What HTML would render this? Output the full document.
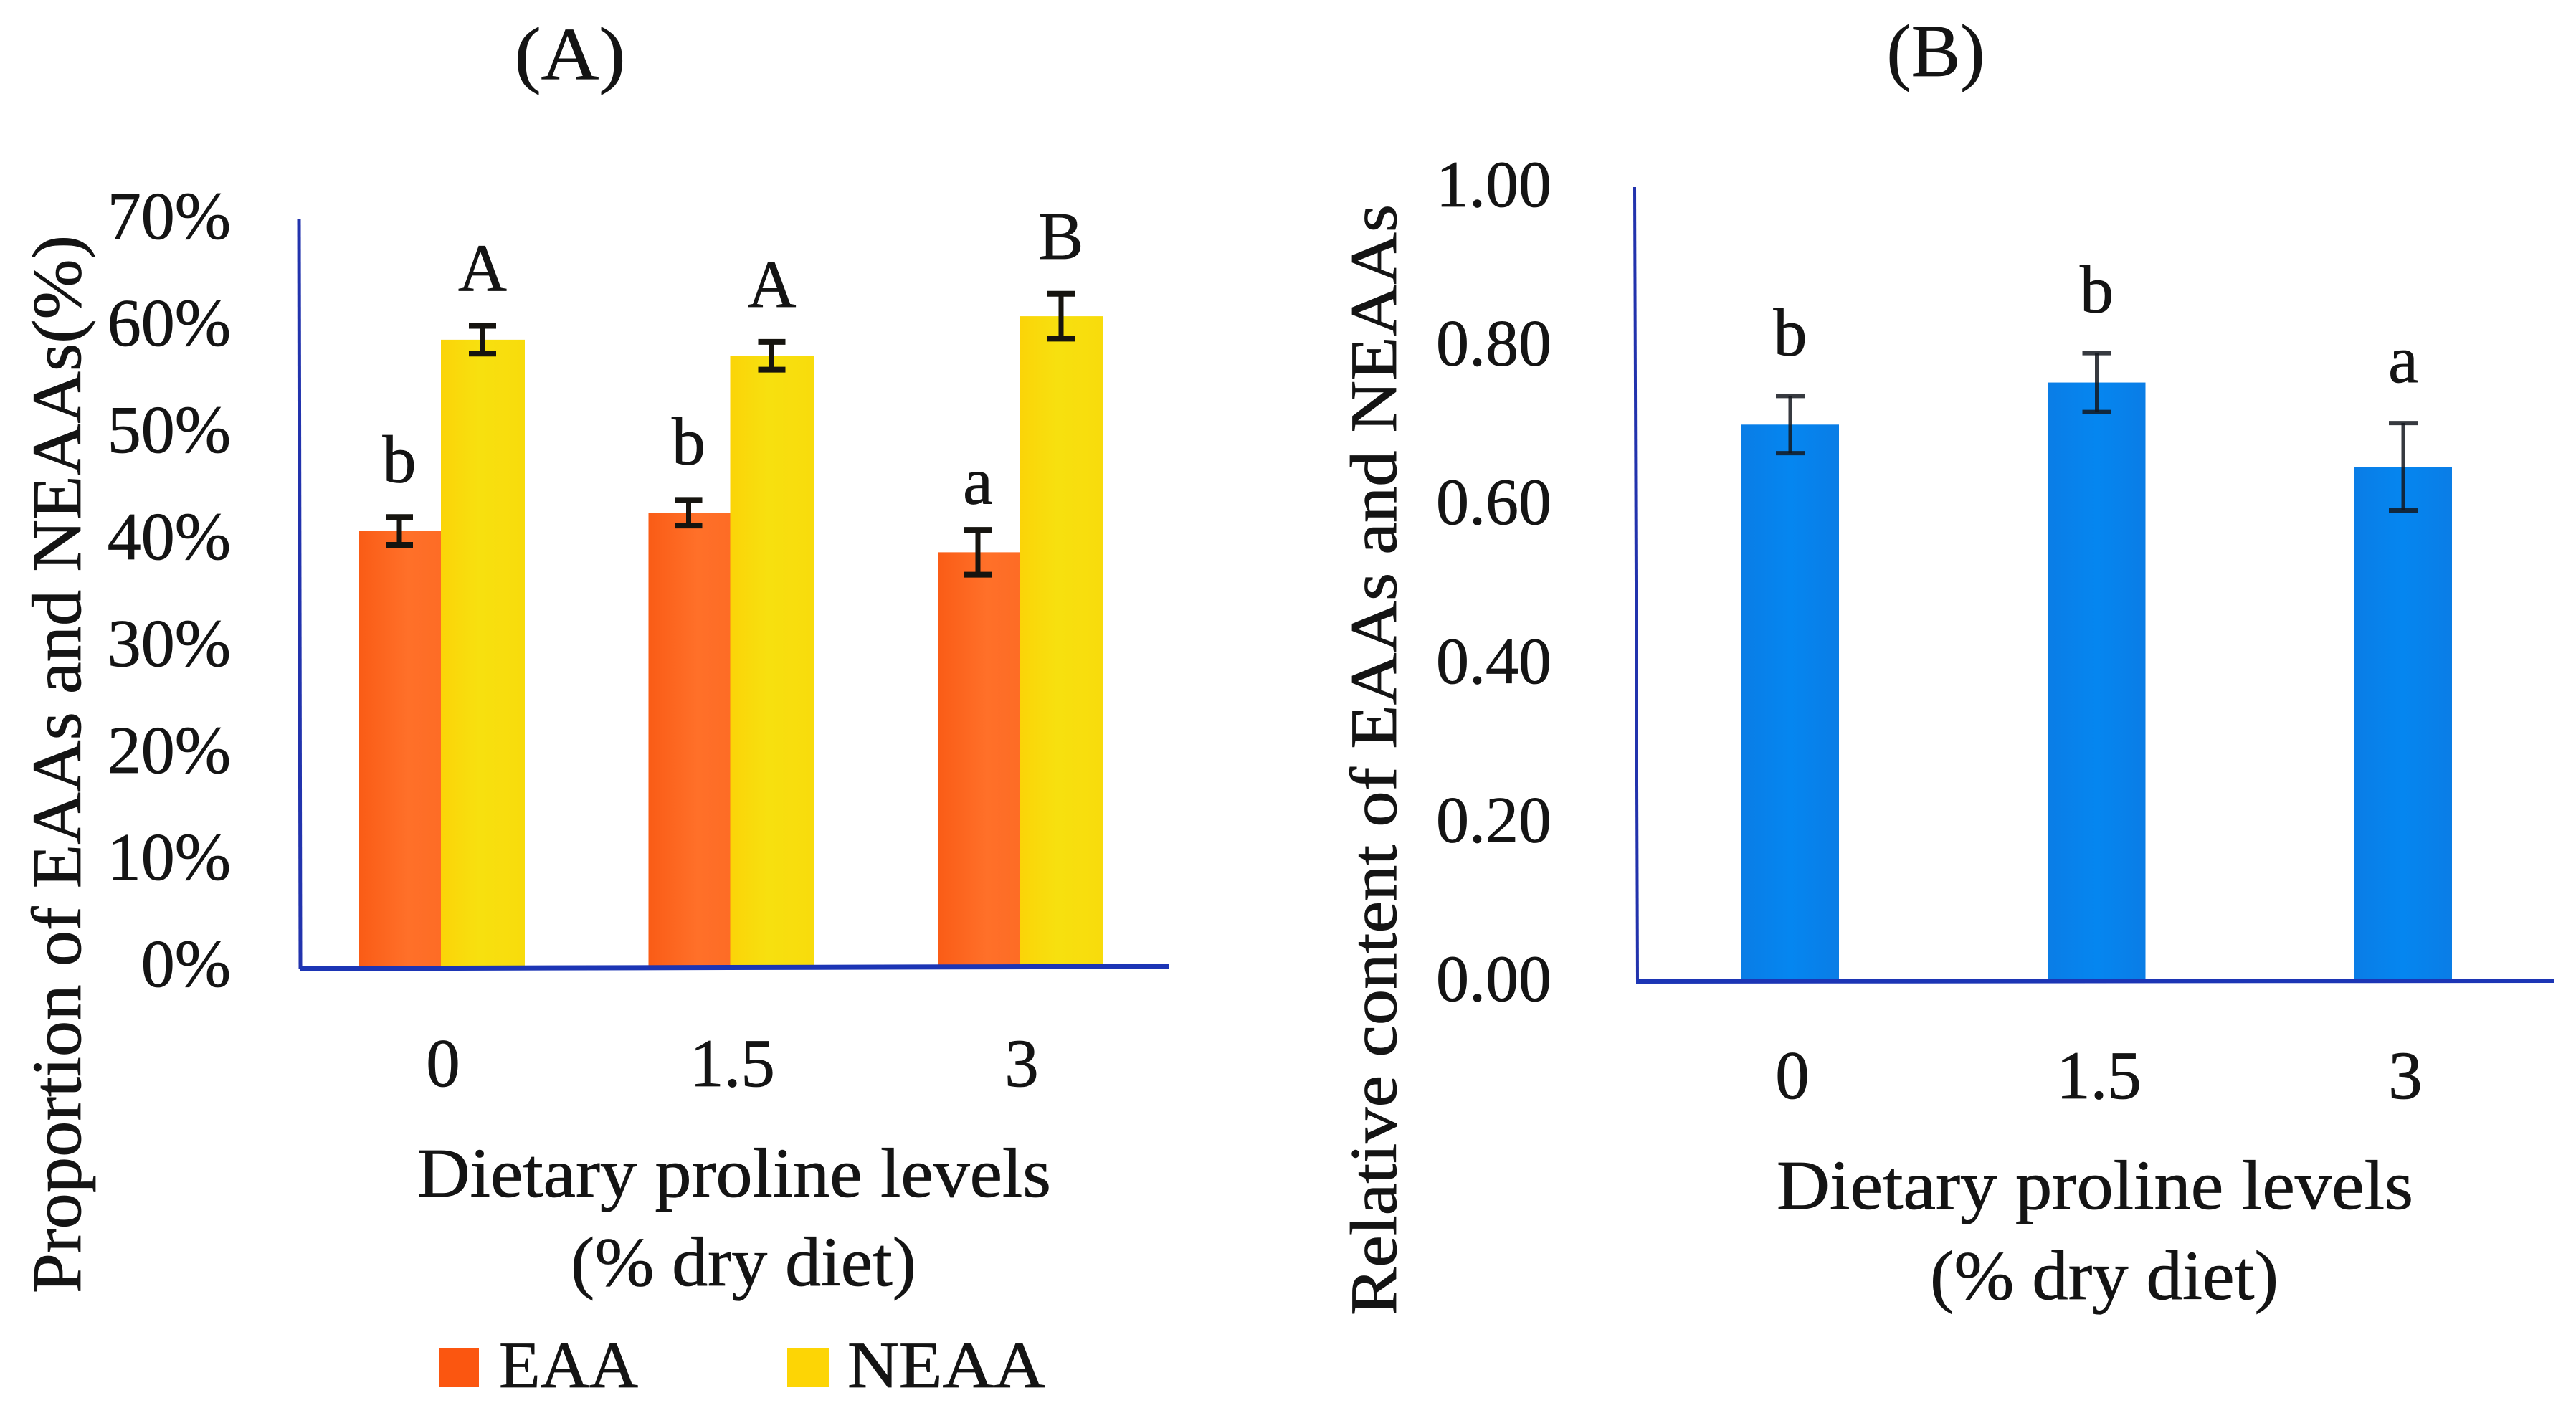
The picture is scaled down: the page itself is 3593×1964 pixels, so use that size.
<!DOCTYPE html>
<html lang="en">
<head>
<meta charset="utf-8">
<title>Proportion and relative content of EAAs and NEAAs</title>
<style>
html,body{margin:0;padding:0;background:#fff;}
svg{display:block;}
text{font-family:"Liberation Serif",serif;fill:#141414;stroke:#141414;stroke-width:0.8px;}
</style>
</head>
<body>
<svg id="figure" xmlns="http://www.w3.org/2000/svg" width="3593" height="1964" viewBox="0 0 3593 1964">
  <defs>
    <linearGradient id="orangeFill" x1="0" x2="1" y1="0" y2="0">
      <stop offset="0" stop-color="#fa5c16"/><stop offset="0.6" stop-color="#ff7029"/><stop offset="1" stop-color="#fe6c25"/>
    </linearGradient>
    <linearGradient id="yellowFill" x1="0" x2="1" y1="0" y2="0">
      <stop offset="0" stop-color="#fbd408"/><stop offset="0.45" stop-color="#f7e00f"/><stop offset="1" stop-color="#f8dc0c"/>
    </linearGradient>
    <linearGradient id="blueFill" x1="0" x2="1" y1="0" y2="0">
      <stop offset="0" stop-color="#0a7de6"/><stop offset="0.5" stop-color="#0586f0"/><stop offset="1" stop-color="#0a7de6"/>
    </linearGradient>
  </defs>

  <g id="panelA">
    <text x="795" y="110" font-size="104" text-anchor="middle" textLength="155" lengthAdjust="spacingAndGlyphs">(A)</text>
    <text transform="translate(112,1804) rotate(-90)" font-size="97" textLength="1476" lengthAdjust="spacingAndGlyphs">Proportion of EAAs and NEAAs(%)</text>
    <text x="1024" y="1669" font-size="97" text-anchor="middle" textLength="884" lengthAdjust="spacingAndGlyphs">Dietary proline levels</text>
    <text x="1037" y="1793" font-size="97" text-anchor="middle" textLength="482" lengthAdjust="spacingAndGlyphs">(% dry diet)</text>
    <g>
      <g>
        <rect x="613" y="1881" width="55" height="54" fill="#fb5610"/>
        <text x="696" y="1935" font-size="92" textLength="194" lengthAdjust="spacingAndGlyphs">EAA</text>
      </g>
      <g>
        <rect x="1098" y="1881" width="58" height="54" fill="#fdd505"/>
        <text x="1182" y="1935" font-size="92" textLength="276" lengthAdjust="spacingAndGlyphs">NEAA</text>
      </g>
    </g>
  </g>

  <g id="panelB">
    <text x="2700" y="106" font-size="104" text-anchor="middle" textLength="137" lengthAdjust="spacingAndGlyphs">(B)</text>
    <text transform="translate(1947,1835) rotate(-90)" font-size="92" textLength="1550" lengthAdjust="spacingAndGlyphs">Relative content of EAAs and NEAAs</text>
    <text x="2922" y="1686" font-size="97" text-anchor="middle" textLength="888" lengthAdjust="spacingAndGlyphs">Dietary proline levels</text>
    <text x="2935" y="1812" font-size="97" text-anchor="middle" textLength="486" lengthAdjust="spacingAndGlyphs">(% dry diet)</text>
  </g>
</svg>

<script>
const categories = ['0', '1.5', '3'];
const eaaValues = [40.9, 42.6, 38.9];
const neaaValues = [58.8, 57.3, 61.0];
const eaaErrors = [1.3, 1.2, 2.1];
const neaaErrors = [1.3, 1.3, 2.1];
const eaaLetters = ['b', 'b', 'a'];
const neaaLetters = ['A', 'A', 'B'];
const percentTicks = [0, 10, 20, 30, 40, 50, 60, 70];

const ratioValues = [0.701, 0.754, 0.648];
const ratioErrors = [0.036, 0.037, 0.055];
const ratioLetters = ['b', 'b', 'a'];
const ratioTicks = [0, 0.2, 0.4, 0.6, 0.8, 1.0];

const NS = 'http://www.w3.org/2000/svg';
const panelA = document.getElementById('panelA');
const panelB = document.getElementById('panelB');

function yA(v) { return 1350 - v * 14.9; }
function xA(i) { return 615 + i * 403.5; }
function yB(v) { return 1369 - v * 1108; }
function xB(i) { return 2497 + i * 427.5; }

function makeLine(parent, x1, y1, x2, y2, color, width) {
  const el = document.createElementNS(NS, 'line');
  el.setAttribute('x1', x1);
  el.setAttribute('y1', y1);
  el.setAttribute('x2', x2);
  el.setAttribute('y2', y2);
  el.setAttribute('stroke', color);
  el.setAttribute('stroke-width', width);
  parent.appendChild(el);
  return el;
}
function makeRect(parent, x, y, w, h, fill) {
  const el = document.createElementNS(NS, 'rect');
  el.setAttribute('x', x);
  el.setAttribute('y', y);
  el.setAttribute('width', w);
  el.setAttribute('height', h);
  el.setAttribute('fill', fill);
  parent.appendChild(el);
  return el;
}
function makeText(parent, x, y, str, size, anchor) {
  const el = document.createElementNS(NS, 'text');
  el.setAttribute('x', x);
  el.setAttribute('y', y);
  el.setAttribute('font-size', size);
  el.setAttribute('text-anchor', anchor);
  el.textContent = str;
  parent.appendChild(el);
  return el;
}
function makeErrorBar(parent, cx, yLow, yHigh, halfCap, color, width) {
  const g = document.createElementNS(NS, 'g');
  
  
  makeLine(g, cx, yLow, cx, yHigh, color, width);
  makeLine(g, cx - halfCap, yLow, cx + halfCap, yLow, color, width + 1);
  makeLine(g, cx - halfCap, yHigh, cx + halfCap, yHigh, color, width + 1);
  parent.appendChild(g);
  return g;
}

/* Panel A */
categories.forEach(function (cat, i) {
  const c = xA(i);
  const eaaBar = makeRect(panelA, c - 114, yA(eaaValues[i]), 114, yA(0) - yA(eaaValues[i]), 'url(#orangeFill)');
  
  
  const neaaBar = makeRect(panelA, c, yA(neaaValues[i]), 117, yA(0) - yA(neaaValues[i]), 'url(#yellowFill)');
  
  
  makeErrorBar(panelA, c - 58, yA(eaaValues[i] - eaaErrors[i]), yA(eaaValues[i] + eaaErrors[i]), 19, '#16140f', 7);
  makeErrorBar(panelA, c + 58, yA(neaaValues[i] - neaaErrors[i]), yA(neaaValues[i] + neaaErrors[i]), 19, '#16140f', 7);
  const eaaLetter = makeText(panelA, c - 58, yA(eaaValues[i]) - 68, eaaLetters[i], 94, 'middle');
  
  
  const neaaLetter = makeText(panelA, c + 58, yA(neaaValues[i] + neaaErrors[i]) - 49, neaaLetters[i], 94, 'middle');
  
  
  const catLabel = makeText(panelA, c + 3, 1515, cat, 95, 'middle');
  
  
});
percentTicks.forEach(function (t) {
  const lab = makeText(panelA, 322, yA(t) + 26, t + '%', 94, 'end');
  
  
});
const axisAy = makeLine(panelA, 417, yA(70) - 2, 419, yA(0) + 2, '#2233ad', 5);


const axisAx = makeLine(panelA, 419, yA(0) + 1, 1630, yA(0) - 2, '#1c35b5', 7);



/* Panel B */
categories.forEach(function (cat, i) {
  const c = xB(i);
  const bar = makeRect(panelB, c - 68, yB(ratioValues[i]), 136, yB(0) - yB(ratioValues[i]), 'url(#blueFill)');
  
  
  makeErrorBar(panelB, c, yB(ratioValues[i] - ratioErrors[i]), yB(ratioValues[i] + ratioErrors[i]), 20, 'rgba(20,24,30,0.85)', 5);
  const letter = makeText(panelB, c, yB(ratioValues[i] + ratioErrors[i]) - 57, ratioLetters[i], 94, 'middle');
  
  
  const catLabel = makeText(panelB, c + 3, 1532, cat, 95, 'middle');
  
  
});
ratioTicks.forEach(function (t) {
  const lab = makeText(panelB, 2164, yB(t) + 27, t.toFixed(2), 92, 'end');
  
  
});
const axisBy = makeLine(panelB, 2280, yB(1), 2284, yB(0), '#2233ad', 4);


const axisBx = makeLine(panelB, 2282, yB(0), 3562, yB(0) - 1, '#1c35b5', 6);


</script>
</body>
</html>
